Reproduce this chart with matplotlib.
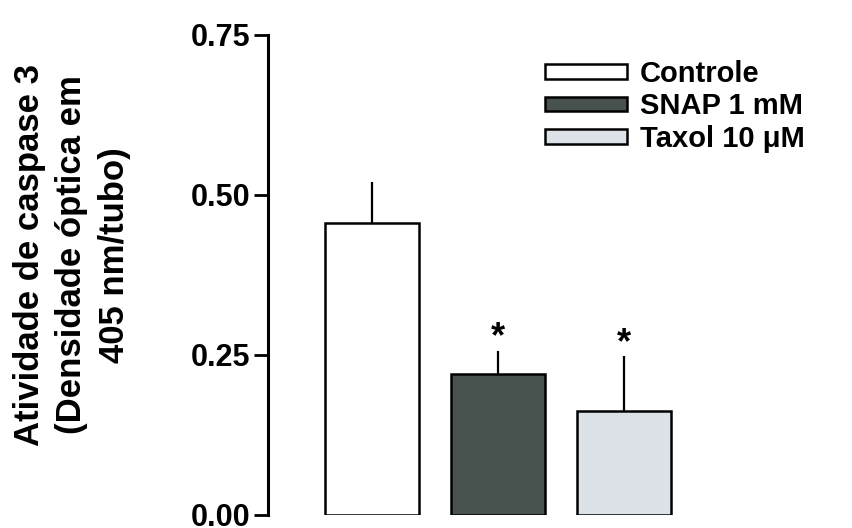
import matplotlib
matplotlib.use('Agg')
import matplotlib.pyplot as plt

plt.rcParams['font.family'] = ['Liberation Sans', 'DejaVu Sans']
plt.rcParams['font.weight'] = 'bold'

groups = ['Controle', 'SNAP 1 mM', 'Taxol 10 \u03bcM']
means = [0.456, 0.221, 0.163]
sem = [0.065, 0.036, 0.086]
signif = ['', '*', '*']
colors = ['white', '#47524f', '#dde2e8']
y_ticks = [0.00, 0.25, 0.50, 0.75]

fig = plt.figure(figsize=(8.52, 5.28), dpi=100)
ax = fig.add_axes([268 / 852, 13 / 528, 572 / 852, 480 / 528])

x = list(range(len(groups)))
bars = ax.bar(x, means, width=0.75, color=colors, edgecolor='black',
              linewidth=1.8, label=groups, zorder=2)
ax.errorbar(x, means, yerr=[[0] * len(sem), sem], fmt='none',
            ecolor='black', elinewidth=1.6, capsize=0, zorder=1)
for xi, m, e, s in zip(x, means, sem, signif):
    if s:
        ax.text(xi, m + e - 0.008, s, ha='center', va='bottom',
                fontsize=26, fontweight='bold')

ax.set_xlim(-0.825, 3.714)
ax.set_ylim(0, 0.75)
ax.set_yticks(y_ticks)
ax.set_yticklabels(['%.2f' % t for t in y_ticks])
ax.tick_params(axis='y', length=10, width=2, labelsize=22, pad=3)
ax.set_xticks([])
for side in ['top', 'right', 'bottom']:
    ax.spines[side].set_visible(False)
ax.spines['left'].set_linewidth(2.2)
ax.set_facecolor('none')

fig.text(72 / 852, 1 - 255 / 528,
         'Atividade de caspase 3\n(Densidade \u00f3ptica em\n405 nm/tubo)',
         rotation=90, ha='center', va='center', multialignment='center',
         fontsize=25, fontweight='bold', linespacing=1.35)

ax.legend(handles=bars, labels=groups, frameon=False, fontsize=21,
          loc='upper left', bbox_to_anchor=(545 / 852, 1 - 60 / 528),
          bbox_transform=fig.transFigure, handlelength=2.8,
          handleheight=0.4, handletextpad=0.45, labelspacing=0.15,
          borderpad=0, borderaxespad=0)

fig.savefig('out.png', dpi=100)
